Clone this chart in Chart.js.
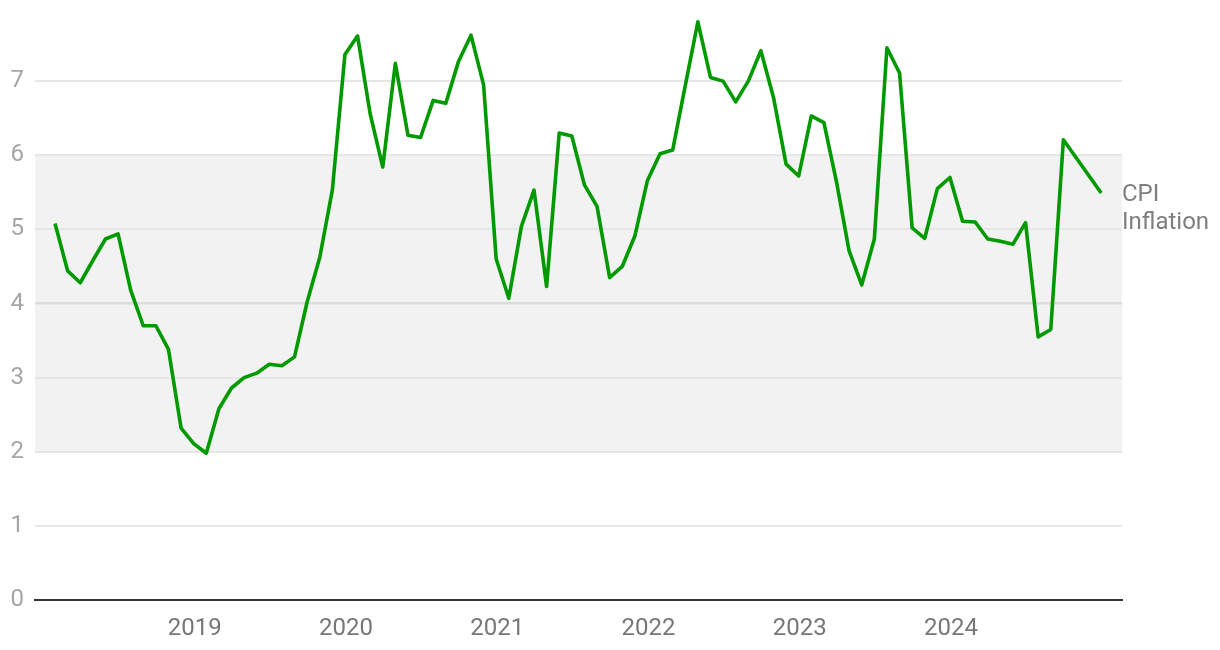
<!DOCTYPE html>
<html>
<head>
<meta charset="utf-8">
<script src="https://cdn.jsdelivr.net/npm/chart.js@4.4.1/dist/chart.umd.min.js"></script>
<style>
  html, body { margin: 0; padding: 0; background: #ffffff; }
  #wrap { width: 1220px; height: 650px; position: relative; }
</style>
</head>
<body>
<div id="wrap"><canvas id="c"></canvas></div>
<script>
// ---- Data ----
const months = [];
for (let y = 2018; y <= 2024; y++) {
  for (let m = 1; m <= 12; m++) months.push(y + '-' + String(m).padStart(2, '0'));
}
const cpi2018 = [5.08, 4.44, 4.28, 4.58, 4.87, 4.94, 4.18, 3.70, 3.70, 3.38, 2.32, 2.11];
const cpi2019 = [1.98, 2.58, 2.86, 3.00, 3.06, 3.18, 3.16, 3.28, 4.02, 4.62, 5.53, 7.36];
const cpi2020 = [7.61, 6.56, 5.84, 7.24, 6.27, 6.24, 6.74, 6.70, 7.26, 7.62, 6.95, 4.60];
const cpi2021 = [4.07, 5.04, 5.53, 4.23, 6.30, 6.26, 5.60, 5.31, 4.35, 4.50, 4.91, 5.66];
const cpi2022 = [6.02, 6.07, 6.94, 7.80, 7.05, 7.00, 6.72, 7.00, 7.41, 6.78, 5.88, 5.72];
const cpi2023 = [6.53, 6.44, 5.64, 4.71, 4.25, 4.87, 7.45, 7.11, 5.02, 4.88, 5.55, 5.70];
const cpi2024 = [5.11, 5.10, 4.87, 4.84, 4.80, 5.09, 3.55, 3.65, 6.21, null, null, 5.49];
const cpiValues = [].concat(cpi2018, cpi2019, cpi2020, cpi2021, cpi2022, cpi2023, cpi2024);
const yearLabels = ['2019', '2020', '2021', '2022', '2023', '2024'];
const yTickValues = [0, 1, 2, 3, 4, 5, 6, 7];
const bandRange = [2, 6];
const seriesName = ['CPI', 'Inflation'];

// ---- Build chart inputs ----
const FONT = 'Roboto, "Noto Sans", sans-serif';
const TICK_SHIFT = 0.92; // year tick sits slightly before the January point
const points = months.map((m, i) => ({ x: i, y: cpiValues[i] }));
const yearTickPos = yearLabels.map(l => (parseInt(l, 10) - 2018) * 12 - TICK_SHIFT);

const bandPlugin = {
  id: 'band',
  beforeDraw(chart) {
    const { ctx, chartArea, scales } = chart;
    const yTop = scales.y.getPixelForValue(bandRange[1]);
    const yBot = scales.y.getPixelForValue(bandRange[0]);
    ctx.save();
    ctx.fillStyle = '#f2f2f2';
    ctx.fillRect(chartArea.left, yTop, chartArea.right - chartArea.left, yBot - yTop);
    ctx.restore();
  }
};

const endLabelPlugin = {
  id: 'endLabel',
  afterDatasetsDraw(chart) {
    const { ctx, chartArea } = chart;
    const meta = chart.getDatasetMeta(0);
    let last = null;
    for (let i = meta.data.length - 1; i >= 0; i--) {
      if (cpiValues[i] !== null) { last = meta.data[i]; break; }
    }
    if (!last) return;
    ctx.save();
    ctx.fillStyle = '#7f7f7f';
    ctx.font = '24px ' + FONT;
    ctx.textAlign = 'left';
    ctx.textBaseline = 'middle';
    const x = chartArea.right + 0;
    ctx.fillText(seriesName[0], x, last.y + 2);
    ctx.fillText(seriesName[1], x, last.y + 29.5);
    ctx.restore();
  }
};

new Chart(document.getElementById('c'), {
  type: 'line',
  data: {
    datasets: [{
      label: seriesName.join(' '),
      data: points,
      borderColor: '#009a00',
      borderWidth: 3.6,
      borderJoinStyle: 'round',
      borderCapStyle: 'butt',
      pointRadius: 0,
      pointHoverRadius: 0,
      tension: 0,
      spanGaps: true,
      fill: false
    }]
  },
  options: {
    responsive: true,
    maintainAspectRatio: false,
    animation: false,
    events: [],
    layout: { padding: { left: 0, right: 98, top: 7, bottom: 0 } },
    plugins: { legend: { display: false }, tooltip: { enabled: false } },
    scales: {
      x: {
        type: 'linear',
        min: -1.59,
        max: 84.65,
        afterBuildTicks(scale) { scale.ticks = yearTickPos.map(v => ({ value: v })); },
        afterFit(scale) { scale.height = 50; scale.paddingLeft = 0; scale.paddingRight = 0; },
        ticks: {
          autoSkip: false,
          maxRotation: 0,
          padding: 15,
          color: '#777777',
          font: { family: FONT, size: 24 },
          callback(value) {
            const idx = yearTickPos.findIndex(p => Math.abs(p - value) < 0.01);
            return idx >= 0 ? yearLabels[idx] : '';
          }
        },
        grid: { display: false, drawTicks: false, tickLength: 0 },
        border: { display: true, color: '#333333', width: 2 }
      },
      y: {
        type: 'linear',
        min: 0,
        max: 8,
        afterBuildTicks(scale) { scale.ticks = yTickValues.map(v => ({ value: v })); },
        afterFit(scale) { scale.width = 35; scale.paddingTop = 0; scale.paddingBottom = 0; },
        ticks: {
          padding: 11,
          color: '#a6a6a6',
          font: { family: FONT, size: 24 },
          callback(value) { return String(value); }
        },
        grid: {
          drawTicks: false,
          tickLength: 0,
          color(ctx) {
            const v = ctx.tick ? ctx.tick.value : null;
            if (v === 0) return 'rgba(0,0,0,0)';
            if (v === 4) return '#dcdcdc';
            return '#e6e6e6';
          },
          lineWidth(ctx) {
            const v = ctx.tick ? ctx.tick.value : null;
            return v === 4 ? 2.5 : 2;
          }
        },
        border: { display: false }
      }
    }
  },
  plugins: [bandPlugin, endLabelPlugin]
});
</script>
</body>
</html>
